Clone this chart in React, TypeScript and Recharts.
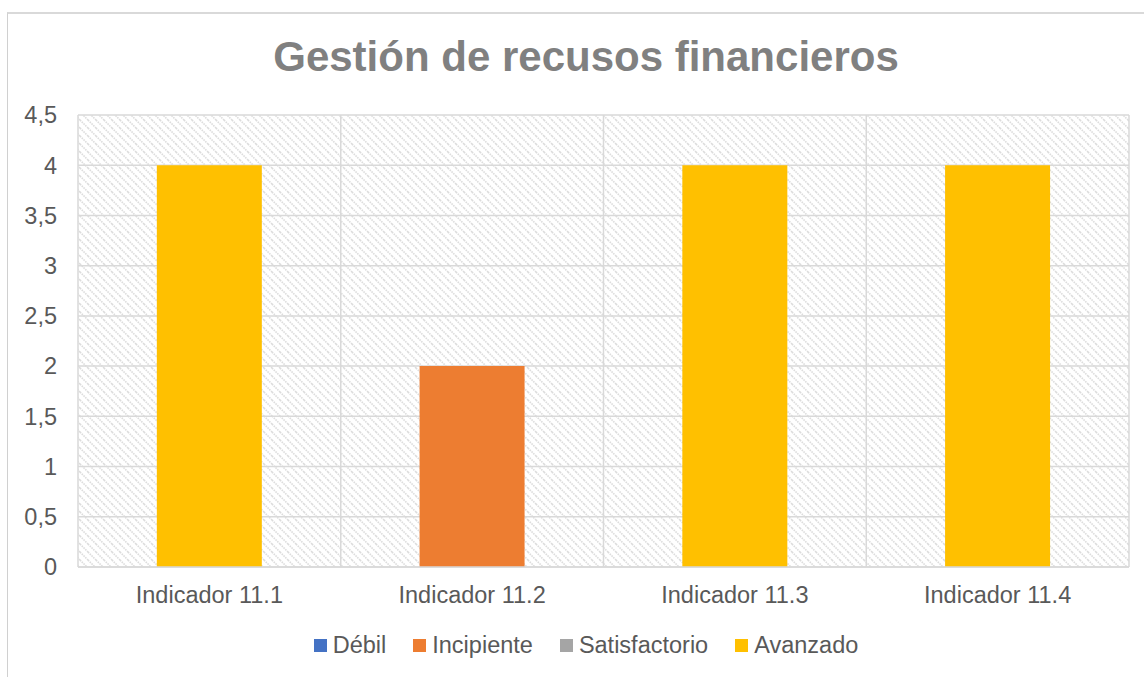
import { BarChart, Bar, XAxis, YAxis, CartesianGrid } from "recharts";

const categories = ["Indicador 11.1", "Indicador 11.2", "Indicador 11.3", "Indicador 11.4"];
const seriesNames = ["Débil", "Incipiente", "Satisfactorio", "Avanzado"];
const seriesColors = ["#4472C4", "#ED7D31", "#A5A5A5", "#FFC000"];
const debil = [0, 0, 0, 0];
const incipiente = [0, 2, 0, 0];
const satisfactorio = [0, 0, 0, 0];
const avanzado = [4, 0, 4, 4];
const yTicks = [0, 0.5, 1, 1.5, 2, 2.5, 3, 3.5, 4, 4.5];

const seriesValues = [debil, incipiente, satisfactorio, avanzado];

const data = categories.map((name, i) => {
  const row: Record<string, string | number> = { name };
  seriesNames.forEach((s, j) => {
    row[s] = seriesValues[j][i];
  });
  return row;
});

const FONT = '"Liberation Sans", Arial, sans-serif';
const TEXT = "#595959";
const GRID = "#d9d9d9";

const fmt = (v: number) => String(v).replace(".", ",");

export default function App() {
  return (
    <div style={{ position: "absolute", left: 0, top: 0, width: 1144, height: 677, background: "#fff", fontFamily: FONT, overflow: "hidden" }}>
      <div style={{ position: "absolute", left: 7, top: 12, width: 1200, height: 700, borderLeft: "1px solid #d0d0d0", borderTop: "2px solid #d9d9d9" }} />
      <div style={{ position: "absolute", left: 0, width: 1172, top: 33, textAlign: "center", fontSize: 42, fontWeight: 700, color: "#808080", lineHeight: "48px" }}>
        Gestión de recusos financieros
      </div>
      <div style={{ position: "absolute", left: 0, top: 0 }}>
        <BarChart width={1144} height={677} data={data} margin={{ top: 115, right: 15, bottom: 70, left: 0 }} barCategoryGap="30%">
          <defs>
            <pattern id="hatch" patternUnits="userSpaceOnUse" width="8" height="8">
              <rect width="8" height="8" fill="#fff" />
              <path d="M0,0 L8,8 M-4,4 L4,12 M4,-4 L12,4" stroke="#dcdcdc" strokeWidth="1.6" strokeDasharray="1.5,1" />
            </pattern>
          </defs>
          <CartesianGrid
            fill="url(#hatch)"
            stroke={GRID}
            strokeWidth={1.5}
            verticalCoordinatesGenerator={({ offset }: any) =>
              categories.map((_, i) => offset.left + (i * offset.width) / categories.length).concat(offset.left + offset.width)
            }
          />
          <XAxis
            dataKey="name"
            axisLine={{ stroke: GRID, strokeWidth: 1.5 }}
            tickLine={false}
            tickSize={0}
            tickMargin={19}
            height={40}
            tick={{ fill: TEXT, fontSize: 23.5, fontFamily: FONT }}
          />
          <YAxis
            domain={[0, 4.5]}
            ticks={yTicks}
            width={78}
            axisLine={false}
            tickLine={false}
            tickSize={0}
            tickMargin={21}
            tickFormatter={fmt}
            tick={{ fill: TEXT, fontSize: 23.5, fontFamily: FONT }}
          />
          {seriesNames.map((s, j) => (
            <Bar key={s} dataKey={s} stackId="a" fill={seriesColors[j]} isAnimationActive={false} />
          ))}
        </BarChart>
      </div>
      <div style={{ position: "absolute", left: 0, width: 1172, top: 631, display: "flex", justifyContent: "center", alignItems: "center", gap: 27, fontSize: 23.5, color: TEXT }}>
        {seriesNames.map((s, j) => (
          <div key={s} style={{ display: "flex", alignItems: "center" }}>
            <span style={{ display: "inline-block", width: 13, height: 13, background: seriesColors[j], marginRight: 6 }} />
            <span style={{ lineHeight: "28px" }}>{s}</span>
          </div>
        ))}
      </div>
    </div>
  );
}
